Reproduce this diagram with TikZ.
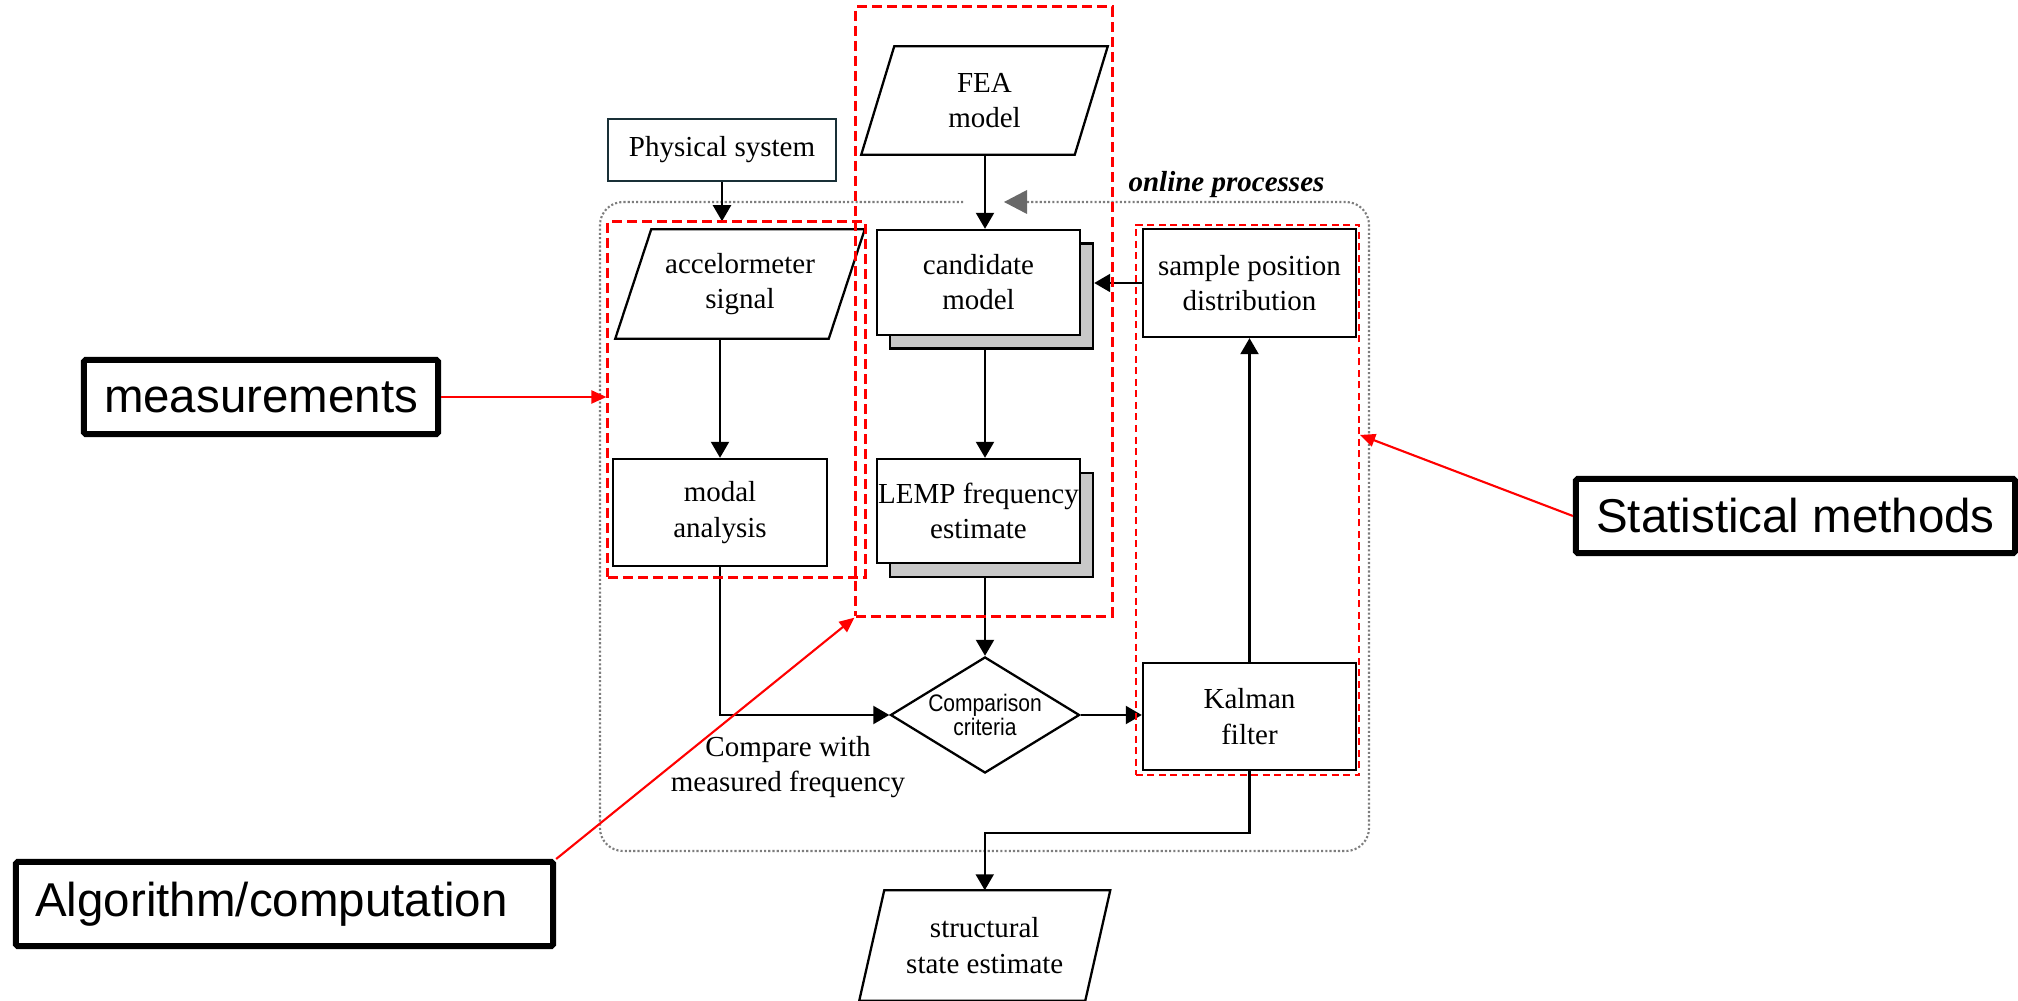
\documentclass[tikz,border=0pt]{standalone}
\usepackage{fontspec}
\setmainfont{Liberation Serif}
\newfontfamily\labelsans{Liberation Sans}
\newfontfamily\condsans[FakeStretch=0.88]{Liberation Sans}
\usetikzlibrary{arrows.meta,shapes.geometric}
\definecolor{dred}{RGB}{255,0,0}
\definecolor{shadowgray}{RGB}{200,200,200}
\definecolor{dotgray}{RGB}{125,125,125}
\definecolor{tridark}{RGB}{105,105,105}
\definecolor{tealdark}{RGB}{25,48,55}
\newcommand\drawpara[2]{\draw[line width=0.65pt] ([xshift=#2]#1.north west) -- ([xshift=#2]#1.north east) -- ([xshift=-#2]#1.south east) -- ([xshift=-#2]#1.south west) -- cycle;}
\tikzset{
 flow/.style={draw=black, line width=0.65pt, fill=white, inner sep=0pt, align=center, font=\fontsize{8.25}{10}\selectfont},
 paratext/.style={inner sep=0pt, align=center, font=\fontsize{8.25}{10}\selectfont},
 shadowbox/.style={draw=black, line width=0.65pt, fill=shadowgray, inner sep=0pt},
 arr/.style={-{Triangle[length=0.16cm,width=0.18cm]}, line width=0.6pt},
 redbox/.style={draw=dred, line width=0.85pt, dash pattern=on 0.1cm off 0.05cm, inner sep=0pt},
 redboxthin/.style={draw=dred, line width=0.6pt, dash pattern=on 0.07cm off 0.045cm, inner sep=0pt},
 redarr/.style={draw=dred, line width=0.6pt, -{Triangle[length=0.15cm,width=0.13cm]}},
 tag/.style={draw=black, line width=1.7pt, rounded corners=0.5pt, fill=white, inner sep=0pt, font=\labelsans\fontsize{13.5}{16}\selectfont},
 onlinebox/.style={draw=dotgray, line width=0.6pt, dash pattern=on 0.6pt off 0.6pt, rounded corners=0.23cm},
}
\begin{document}
\begin{tikzpicture}[x=0.01cm,y=-0.01cm]
\useasboundingbox (0,0) rectangle (2018,1001);

% online processes dotted frame
\draw[onlinebox] (1027,202) -- (1369,202) -- (1369,851) -- (600,851) -- (600,202) -- (965,202);
\fill[tridark] (1004,202) -- (1027,190) -- (1027,214) -- cycle;
\node[font=\fontsize{8.25}{10}\selectfont\bfseries\itshape, inner sep=0pt] (onl) at (1226.5,185) {online processes};

% flow nodes
\node[flow, draw=tealdark, minimum width=2.28cm, minimum height=0.62cm] (phys) at (722,150) {Physical system};
\node[paratext, minimum width=2.12cm, minimum height=1.07cm] (fea) at (984.5,100.5) {FEA\\model};
\drawpara{fea}{0.165cm}
\node[paratext, minimum width=2.12cm, minimum height=1.08cm] (accel) at (740,284) {accelormeter\\signal};
\drawpara{accel}{0.18cm}

\node[shadowbox, minimum width=2.03cm, minimum height=1.05cm] (candsh) at (991.5,296) {};
\node[flow, minimum width=2.03cm, minimum height=1.05cm] (cand) at (978.5,282.5) {candidate\\model};
\node[shadowbox, minimum width=2.03cm, minimum height=1.04cm] (lempsh) at (991.5,525) {};
\node[flow, minimum width=2.03cm, minimum height=1.04cm] (lemp) at (978.5,511) {LEMP frequency\\estimate};

\node[flow, minimum width=2.13cm, minimum height=1.08cm] (samp) at (1249.5,283) {sample position\\distribution};
\node[flow, minimum width=2.14cm, minimum height=1.07cm] (modal) at (720,512.5) {modal\\analysis};
\node[flow, minimum width=2.13cm, minimum height=1.07cm] (kal) at (1249.5,716.5) {Kalman\\filter};
\node[flow, shape=diamond, aspect=1.63, minimum width=1.89cm, minimum height=1.16cm, font=\condsans\fontsize{6.8}{6.8}\selectfont] (dia) at (985,715) {Comparison\\criteria};
\node[paratext, minimum width=2.245cm, minimum height=1.09cm] (struct) at (984.75,945.5) {structural\\state estimate};
\drawpara{struct}{0.125cm}
\node[paratext] (cmp) at (788,767) {Compare with\\measured frequency};

% connectors
\draw[arr, shorten >=0.08cm] (phys.south) -- (phys.south |- accel.north);
\draw[arr] (fea.south -| dia.north) -- (dia.north |- cand.north);
\draw[arr] (accel.south -| modal.north) -- (modal.north);
\draw[arr] (dia.north |- candsh.south) -- (dia.north |- lemp.north);
\draw[arr] (dia.north |- lempsh.south) -- (dia.north);
\draw[arr] (modal.south) |- (dia.west);
\draw[arr] (dia.east) -- (dia.east -| kal.west);
\draw[arr] (kal.north) -- (samp.south);
\draw[arr] (samp.west) -- (samp.west -| candsh.east);
\draw[arr] (kal.south) -- ++(0,62) -| (struct.north);

% red dashed grouping boxes
\node[redbox, minimum width=2.57cm, minimum height=3.55cm] (mbox) at (736.5,399.5) {};
\node[redbox, minimum width=2.56cm, minimum height=6.09cm] (abox) at (984,311.5) {};
\node[redboxthin, minimum width=2.23cm, minimum height=5.50cm] (sbox) at (1247.5,500) {};

% tags
\node[tag, minimum width=3.54cm, minimum height=0.74cm] (meas) at (261,397) {measurements};
\node[tag, minimum width=5.37cm, minimum height=0.84cm] (algo) at (284.5,904) {\hspace*{-0.26cm}Algorithm/computation};
\node[tag, minimum width=4.39cm, minimum height=0.74cm] (stat) at (1795.5,516) {Statistical methods};

\draw[redarr] (meas.east) -- (meas.east -| mbox.west);
\draw[redarr] (algo.north east) -- (abox.south west);
\draw[redarr] (stat.west) -- ([yshift=0.65cm]sbox.east);
\end{tikzpicture}
\end{document}
